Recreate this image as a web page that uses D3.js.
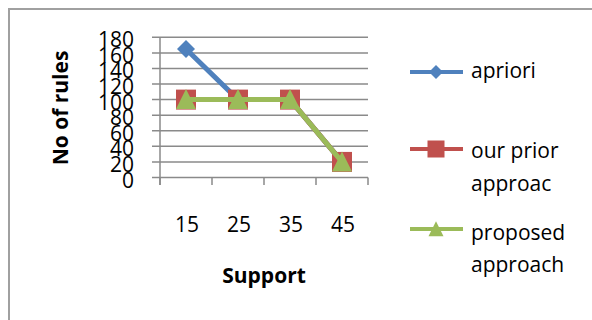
<!DOCTYPE html>
<html><head><meta charset="utf-8">
<script src="https://cdn.jsdelivr.net/npm/d3@7"></script>
<style>body{margin:0;background:#fff}svg{display:block}text{font-family:"Open Sans",sans-serif;fill:#000}</style>
</head><body><svg id="c" width="592" height="320"></svg>
<script>
const categories = ["15","25","35","45"];
const apriori = [165, 100, 100, 20];
const ourPrior = [100, 100, 100, 20];
const proposed = [100, 100, 100, 20];
const yTicks = [0,20,40,60,80,100,120,140,160,180];
const seriesNames = ["apriori", ["our prior","approac"], ["proposed","approach"]];
const colors = ["#4F81BD", "#C0504D", "#9BBB59"];

const svg = d3.select("#c");
svg.append("rect").attr("x",9).attr("y",9).attr("width",600).attr("height",330)
  .attr("fill","#fff").attr("stroke","#a0a0a0").attr("stroke-width",2);

const L=160, R=368, T=37.3, B=177.5;
const x = d3.scaleBand().domain(categories).range([L,R]);
const y = d3.scaleLinear().domain([0,180]).range([B,T]);

// gridlines
svg.append("g").selectAll("line").data(yTicks).join("line")
  .attr("x1",152).attr("x2",R).attr("y1",d=>y(d)).attr("y2",d=>y(d))
  .attr("stroke","#8a8a8a").attr("stroke-width",1.5);
// y axis line
svg.append("line").attr("x1",L).attr("x2",L).attr("y1",T).attr("y2",185)
  .attr("stroke","#8a8a8a").attr("stroke-width",1.5);
// x ticks
const xt = categories.map(c=>x(c)).concat([R]);
svg.append("g").selectAll("line").data(xt).join("line")
  .attr("x1",d=>d).attr("x2",d=>d).attr("y1",B).attr("y2",185)
  .attr("stroke","#8a8a8a").attr("stroke-width",1.5);
// y labels
svg.append("g").selectAll("text").data(yTicks).join("text")
  .attr("x",134).attr("y",d=>y(d)+10).attr("text-anchor","end")
  .attr("font-size",21).text(d=>d);
// x labels
svg.append("g").selectAll("text").data(categories).join("text")
  .attr("x",d=>x(d)+x.bandwidth()/2+1).attr("y",232).attr("text-anchor","middle")
  .attr("font-size",21).text(d=>d);
// titles
svg.append("text").attr("x",264).attr("y",283).attr("text-anchor","middle")
  .attr("font-size",21).attr("font-weight","bold").text("Support");
svg.append("text").attr("transform","translate(68,108) rotate(-90)").attr("text-anchor","middle")
  .attr("font-size",21).attr("font-weight","bold").text("No of rules");

const cx = c=>x(c)+x.bandwidth()/2;
const line = d3.line().x((d,i)=>cx(categories[i])).y(d=>y(d));
const series=[apriori, ourPrior, proposed];

function marker(g, k, px, py, s){
  if(k===0){
    g.append("path").attr("d",`M${px},${py-s}L${px+s},${py}L${px},${py+s}L${px-s},${py}Z`).attr("fill",colors[0]);
  } else if(k===1){
    g.append("rect").attr("x",px-s).attr("y",py-s).attr("width",2*s).attr("height",2*s).attr("fill",colors[1]);
  } else {
    g.append("path").attr("d",`M${px},${py-s*1.05}L${px+s},${py+s*0.95}L${px-s},${py+s*0.95}Z`).attr("fill",colors[2]);
  }
}
series.forEach((s,k)=>{
  const g=svg.append("g");
  g.append("path").datum(s).attr("d",line).attr("fill","none")
    .attr("stroke",colors[k]).attr("stroke-width",5).attr("stroke-linejoin","round");
  s.forEach((v,i)=>marker(g,k,cx(categories[i]),y(v),k===0?9:10));
});

// legend
const legY=[72,149,229];
const legText=[[78],[158,191],[240,272]];
seriesNames.forEach((n,k)=>{
  const g=svg.append("g");
  g.append("line").attr("x1",410).attr("x2",463).attr("y1",legY[k]).attr("y2",legY[k])
    .attr("stroke",colors[k]).attr("stroke-width",4);
  marker(g,k,436,legY[k],k===0?7:(k===1?8.5:7.5));
  const lines=Array.isArray(n)?n:[n];
  lines.forEach((t,j)=>g.append("text").attr("x",471).attr("y",legText[k][j]).attr("font-size",21).text(t));
});
</script></body></html>
